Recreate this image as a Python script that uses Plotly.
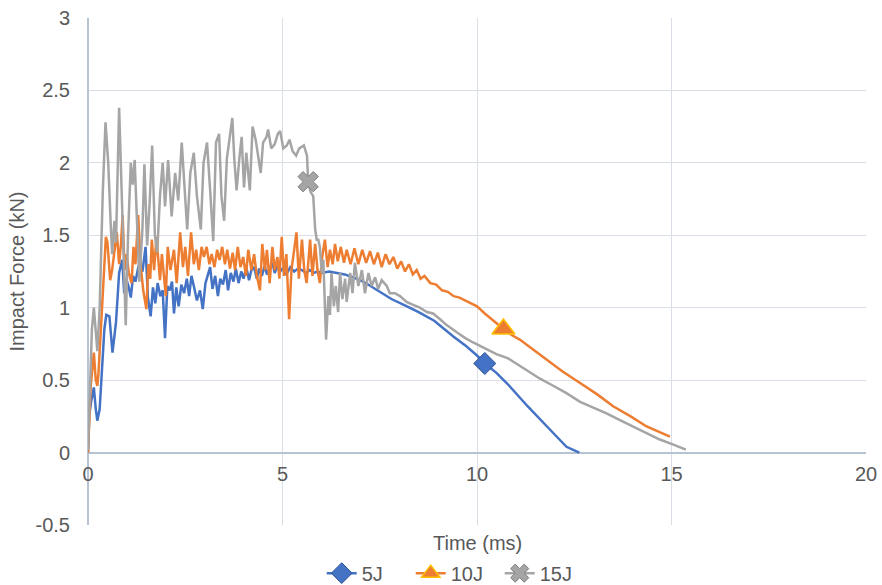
import plotly.graph_objects as go

# ---- impact force histories (time in ms, force in kN) ----
t_5j = [0.0, 0.03, 0.08, 0.15, 0.2, 0.24, 0.3, 0.37, 0.42, 0.47,
        0.55, 0.63, 0.72, 0.8, 0.88, 0.93, 0.98, 1.04, 1.1, 1.16,
        1.22, 1.3, 1.4, 1.48, 1.54, 1.61, 1.67, 1.73, 1.79, 1.86,
        1.92, 1.98, 2.04, 2.1, 2.16, 2.21, 2.27, 2.33, 2.4, 2.47,
        2.54, 2.6, 2.66, 2.72, 2.8, 2.88, 2.95, 3.02, 3.08, 3.14,
        3.2, 3.27, 3.34, 3.4, 3.47, 3.54, 3.6, 3.67, 3.74, 3.8,
        3.87, 3.94, 4.0, 4.07, 4.14, 4.2, 4.27, 4.34, 4.4, 4.47,
        4.54, 4.6, 4.67, 4.74, 4.8, 4.87, 4.94, 5.0, 5.1, 5.2,
        5.3, 5.4, 5.5, 5.6, 5.7, 5.8, 5.9, 6.0, 6.2, 6.4,
        6.6, 6.8, 7.0, 7.2, 7.5, 7.8, 8.2, 8.5, 8.9, 9.2,
        9.4, 9.7, 10.0, 10.2, 10.5, 10.8, 11.3, 11.8, 12.3, 12.63]
f_5j = [0.0, 0.25, 0.35, 0.45, 0.3, 0.22, 0.3, 0.6, 0.85, 0.95,
        0.94, 0.69, 0.9, 1.24, 1.33, 1.1, 1.2, 1.15, 1.07, 1.22,
        1.18, 1.29, 1.25, 1.42, 1.07, 0.94, 1.14, 1.03, 1.17, 1.08,
        1.12, 0.79, 1.15, 1.12, 1.18, 0.96, 1.14, 1.01, 1.16, 1.1,
        1.2, 1.08, 1.22, 1.15, 1.05, 1.12, 0.99, 1.17, 1.22, 1.28,
        1.13, 1.22, 1.08, 1.2, 1.16, 1.26, 1.12, 1.24, 1.18, 1.27,
        1.17, 1.25, 1.2, 1.28, 1.19, 1.26, 1.28, 1.2, 1.27, 1.22,
        1.29, 1.23, 1.27, 1.31, 1.24, 1.29, 1.25, 1.27, 1.23, 1.28,
        1.25, 1.27, 1.26, 1.24, 1.26, 1.24, 1.25, 1.24, 1.25, 1.24,
        1.23, 1.21, 1.19, 1.16, 1.11, 1.06, 1.01, 0.97, 0.91, 0.84,
        0.8, 0.74, 0.67, 0.615, 0.55, 0.47, 0.32, 0.18, 0.04, 0.0]

t_10j = [0.0, 0.04, 0.07, 0.12, 0.15, 0.2, 0.24, 0.27, 0.3, 0.36,
         0.41, 0.46, 0.5, 0.55, 0.57, 0.62, 0.68, 0.74, 0.8, 0.85,
         0.89, 0.94, 0.99, 1.05, 1.12, 1.17, 1.22, 1.29, 1.35, 1.42,
         1.5, 1.55, 1.6, 1.64, 1.7, 1.76, 1.85, 1.9, 2.0, 2.05,
         2.12, 2.21, 2.28, 2.37, 2.44, 2.5, 2.57, 2.65, 2.72, 2.78,
         2.85, 2.92, 2.98, 3.05, 3.12, 3.18, 3.25, 3.32, 3.38, 3.45,
         3.52, 3.58, 3.65, 3.72, 3.78, 3.85, 3.92, 3.99, 4.06, 4.12,
         4.2, 4.27, 4.34, 4.42, 4.48, 4.55, 4.6, 4.67, 4.74, 4.8,
         4.87, 4.92, 4.98, 5.04, 5.1, 5.17, 5.23, 5.3, 5.36, 5.42,
         5.5, 5.56, 5.62, 5.71, 5.77, 5.84, 5.9, 5.96, 6.02, 6.09,
         6.16, 6.22, 6.29, 6.35, 6.42, 6.5, 6.58, 6.65, 6.75, 6.85,
         6.95, 7.05, 7.15, 7.25, 7.35, 7.45, 7.55, 7.65, 7.75, 7.85,
         7.95, 8.05, 8.15, 8.25, 8.35, 8.45, 8.55, 8.65, 8.8, 8.95,
         9.1, 9.25, 9.4, 9.55, 9.7, 9.85, 10.0, 10.2, 10.42, 10.68,
         10.9, 11.1, 11.45, 11.79, 12.2, 12.65, 13.1, 13.5, 13.95, 14.36,
         14.7, 14.96]
f_10j = [0.0, 0.3, 0.46, 0.6, 0.69, 0.5, 0.46, 0.55, 0.69, 1.0,
         1.26, 1.49, 1.45, 1.3, 1.19, 1.26, 1.4, 1.52, 1.3, 1.45,
         1.64, 1.26, 1.37, 1.24, 1.17, 1.42, 1.3, 1.64, 1.3, 1.12,
         0.99, 1.3, 1.2, 1.47, 1.26, 1.49, 1.19, 1.37, 1.08, 1.42,
         1.26, 1.4, 1.17, 1.52, 1.28, 1.42, 1.22, 1.52, 1.3, 1.4,
         1.26, 1.42, 1.35, 1.42, 1.3, 1.37, 1.28, 1.4, 1.33, 1.42,
         1.3, 1.4, 1.27, 1.38, 1.26, 1.42, 1.28, 1.35, 1.22, 1.4,
         1.26, 1.37, 1.22, 1.12, 1.44, 1.26, 1.4, 1.17, 1.42, 1.26,
         1.35, 1.2, 1.49, 1.22, 1.37, 0.92, 1.26, 1.42, 1.52, 1.2,
         1.47, 1.26, 1.17, 1.47, 1.22, 1.44, 1.26, 1.17, 1.35, 1.47,
         1.28, 1.4, 1.3, 1.44, 1.32, 1.42, 1.31, 1.4, 1.3, 1.41,
         1.3, 1.4, 1.31, 1.39, 1.3, 1.38, 1.28, 1.37, 1.3, 1.35,
         1.27, 1.32, 1.25, 1.3, 1.23, 1.26, 1.2, 1.22, 1.17, 1.16,
         1.12, 1.11, 1.08, 1.07, 1.05, 1.03, 1.01, 0.96, 0.91, 0.853,
         0.81, 0.78, 0.71, 0.64, 0.56, 0.48, 0.4, 0.32, 0.25, 0.18,
         0.14, 0.11]

t_15j = [0.0, 0.05, 0.1, 0.15, 0.2, 0.24, 0.3, 0.38, 0.45, 0.52,
         0.58, 0.62, 0.68, 0.72, 0.8, 0.86, 0.92, 0.97, 1.03, 1.1,
         1.15, 1.2, 1.25, 1.32, 1.4, 1.45, 1.52, 1.58, 1.65, 1.72,
         1.78, 1.85, 1.92, 1.98, 2.06, 2.15, 2.24, 2.32, 2.41, 2.49,
         2.55, 2.63, 2.72, 2.8, 2.9, 2.97, 3.06, 3.14, 3.22, 3.29,
         3.37, 3.43, 3.5, 3.57, 3.65, 3.71, 3.76, 3.82, 3.89, 3.95,
         4.01, 4.07, 4.16, 4.23, 4.31, 4.37, 4.44, 4.5, 4.59, 4.63,
         4.71, 4.8, 4.88, 4.94, 5.02, 5.11, 5.18, 5.26, 5.35, 5.43,
         5.55, 5.63, 5.66, 5.72, 5.79, 5.84, 5.88, 5.92, 5.96, 6.01,
         6.05, 6.09, 6.12, 6.18, 6.22, 6.26, 6.32, 6.37, 6.43, 6.48,
         6.54, 6.61, 6.65, 6.74, 6.8, 6.86, 6.95, 7.04, 7.12, 7.21,
         7.29, 7.38, 7.46, 7.55, 7.68, 7.76, 7.89, 8.02, 8.19, 8.36,
         8.53, 8.71, 8.87, 9.05, 9.22, 9.48, 9.7, 9.9, 10.2, 10.5,
         10.8, 11.1, 11.4, 11.62, 11.9, 12.3, 12.65, 13.0, 13.33, 13.7,
         14.0, 14.4, 14.7, 15.0, 15.37]
f_15j = [0.02, 0.5, 0.85, 1.0, 0.8, 0.7, 1.0, 1.8, 2.28, 2.0,
         1.6, 1.37, 1.6, 1.45, 2.38, 1.9, 1.3, 0.88, 1.5, 2.0,
         1.85, 2.02, 1.66, 1.18, 1.55, 1.99, 1.43, 1.7, 2.12, 1.5,
         1.38, 1.77, 2.0, 1.7, 2.02, 1.63, 1.93, 1.74, 2.14, 1.81,
         1.54, 1.93, 2.07, 1.77, 1.54, 2.0, 2.14, 1.81, 1.46, 2.14,
         2.2, 1.77, 1.6, 2.03, 2.2, 2.31, 2.03, 1.81, 2.03, 2.18,
         1.83, 2.07, 1.81, 2.25, 2.16, 2.05, 1.93, 2.14, 2.18, 2.23,
         2.1, 2.13, 2.2, 2.22, 2.1, 2.12, 2.16, 2.08, 2.05, 2.1,
         2.12, 2.05, 1.87, 1.8, 1.77, 1.54, 1.47, 1.47, 1.42, 1.24,
         1.33, 1.01, 0.78, 1.08, 0.95, 1.24, 1.01, 1.15, 0.97, 1.24,
         1.06, 1.2, 1.04, 1.24, 1.1, 1.31, 1.15, 1.26, 1.1, 1.24,
         1.15, 1.21, 1.13, 1.19, 1.15, 1.1, 1.1, 1.08, 1.04, 1.02,
         1.0, 0.97, 0.96, 0.92, 0.88, 0.83, 0.79, 0.76, 0.72, 0.68,
         0.65, 0.6, 0.55, 0.51, 0.47, 0.41, 0.35, 0.31, 0.27, 0.22,
         0.18, 0.13, 0.09, 0.06, 0.02]

# index of the point that carries each series' marker
mark_5j = 103
mark_10j = 139
mark_15j = 82

series_names = ["5J", "10J", "15J"]
x_ticks = [0, 5, 10, 15, 20]
y_ticks = [-0.5, 0, 0.5, 1, 1.5, 2, 2.5, 3]

BLUE, ORANGE, GREY = "#4472C4", "#ED7D31", "#A5A5A5"
TEXT = "#595959"
FONT = "Liberation Sans, Arial, sans-serif"
FS = 20

fig = go.Figure()

styles = [
    (t_5j, f_5j, mark_5j, BLUE, dict(symbol="diamond", size=17, color=BLUE,
                                     line=dict(color="#2F5597", width=1))),
    (t_10j, f_10j, mark_10j, ORANGE, dict(symbol="triangle-up", size=20, color=ORANGE,
                                          line=dict(color="#FFC000", width=1.5))),
    (t_15j, f_15j, mark_15j, GREY, dict(symbol="x", size=18, color=GREY,
                                        line=dict(color="#7F7F7F", width=1))),
]

for name, (tt, ff, mi, col, mk) in zip(series_names, styles):
    fig.add_trace(go.Scatter(
        x=tt, y=ff, mode="lines", name=name, legendgroup=name,
        showlegend=False, line=dict(color=col, width=2.5),
        hoverinfo="skip"))

for name, (tt, ff, mi, col, mk) in zip(series_names, styles):
    fig.add_trace(go.Scatter(
        x=[tt[mi]], y=[ff[mi]], mode="lines+markers", name=name,
        legendgroup=name, line=dict(color=col, width=2.5), marker=mk))

grid = "#D9DEE7"
axis = "#B7C2D2"
fig.update_layout(
    width=882, height=585,
    margin=dict(l=88, r=16, t=18, b=60, autoexpand=False),
    paper_bgcolor="white", plot_bgcolor="white",
    font=dict(family=FONT, color=TEXT, size=FS),
    showlegend=True,
    legend=dict(orientation="h", x=0.472, xanchor="center", y=-0.095,
                yanchor="middle", font=dict(size=FS, color=TEXT),
                tracegroupgap=0, entrywidth=44),
    xaxis=dict(range=[0, 20], tickvals=x_ticks, ticktext=[str(v) for v in x_ticks],
               showgrid=True, gridcolor=grid, gridwidth=1,
               zeroline=True, zerolinecolor=axis, zerolinewidth=2,
               showline=False, ticks="", anchor="free", ticklabelstandoff=7,
               position=0.5 / 3.5, tickfont=dict(size=FS, color=TEXT)),
    yaxis=dict(range=[-0.5, 3], tickvals=y_ticks,
               ticktext=[f"{v:g}" for v in y_ticks],
               showgrid=True, gridcolor=grid, gridwidth=1,
               zeroline=True, zerolinecolor=axis, zerolinewidth=2,
               showline=False, ticks="", ticklabelstandoff=17,
               tickfont=dict(size=FS, color=TEXT)),
    annotations=[
        dict(text="Time (ms)", xref="paper", yref="paper", x=0.5, y=-0.036,
             xanchor="center", yanchor="middle", showarrow=False,
             font=dict(size=FS, color=TEXT)),
        dict(text="Impact Force (kN)", xref="paper", yref="paper",
             x=-0.0925, y=0.5, textangle=-90,
             xanchor="center", yanchor="middle", showarrow=False,
             font=dict(size=FS, color=TEXT)),
    ],
)

fig.write_html("out.html")
